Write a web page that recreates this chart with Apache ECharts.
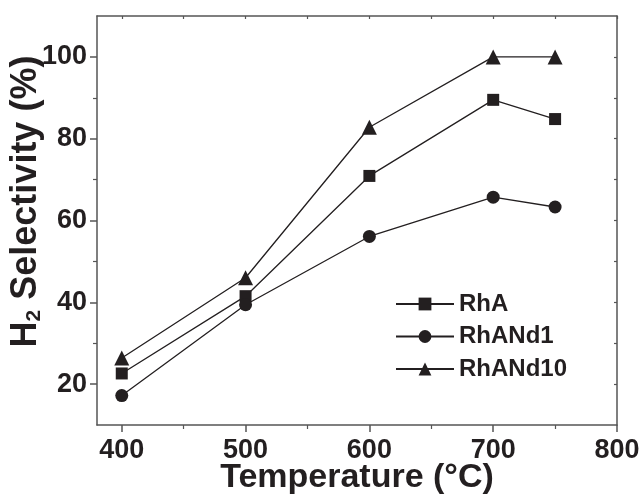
<!DOCTYPE html>
<html>
<head>
<meta charset="utf-8">
<script src="https://cdn.jsdelivr.net/npm/echarts@6/dist/echarts.min.js"></script>
<style>html,body{margin:0;padding:0;background:#fff}#c{width:643px;height:497px}</style>
</head>
<body>
<div id="c"></div>
<script>
const temperatures = [400, 500, 600, 700, 750];
const rhA = [22.6, 41.5, 70.9, 89.5, 84.8];
const rhANd1 = [17.2, 39.4, 56.1, 65.7, 63.3];
const rhANd10 = [26.4, 46.0, 82.8, 100.0, 100.0];
const xMajorTicks = [400, 500, 600, 700, 800];
const xMinorTicks = [450, 550, 650, 750];
const xAllTicks = [400, 450, 500, 550, 600, 650, 700, 750, 800];
const yMajorTicks = [20, 40, 60, 80, 100];
const yMinorTicks = [30, 50, 70, 90];
const yAllTicks = [20, 30, 40, 50, 60, 70, 80, 90, 100];
const seriesNames = ['RhA', 'RhANd1', 'RhANd10'];

const ink = '#231f20';
const axisCol = '#555555';
const font = 'Liberation Sans, Arial, sans-serif';

function pairs(xs, ys) { return xs.map((x, i) => [x, ys[i]]); }

const chart = echarts.init(document.getElementById('c'));
const baseX = { type: 'value', min: 380, max: 800, splitLine: { show: false } };
const baseY = { type: 'value', min: 10, max: 110, splitLine: { show: false } };

chart.setOption({
  animation: false,
  backgroundColor: '#fff',
  grid: { left: 97, right: 26, top: 16, bottom: 72, containLabel: false, outerBoundsMode: 'none' },
  legend: {
    orient: 'vertical', left: 390, top: 287,
    itemWidth: 58, itemHeight: 16, itemGap: 8.5, itemTextGap: 8,
    textStyle: { fontFamily: font, fontWeight: 'bold', fontSize: 24, color: ink, lineHeight: 24 },
    data: seriesNames
  },
  xAxis: [
    Object.assign({}, baseX, {
      position: 'bottom',
      name: 'Temperature (°C)', nameLocation: 'middle', nameGap: 36, nameMoveOverlap: false,
      nameTextStyle: { fontFamily: font, fontWeight: 'bold', fontSize: 34, color: ink },
      axisLine: { show: true, lineStyle: { color: axisCol, width: 1.5 } },
      axisTick: { show: true, inside: false, length: 7, customValues: xMajorTicks, lineStyle: { color: axisCol, width: 1.5 } },
      axisLabel: { customValues: xMajorTicks, margin: 12, fontFamily: font, fontWeight: 'bold', fontSize: 27, color: ink }
    }),
    Object.assign({}, baseX, {
      position: 'bottom',
      axisLine: { show: false },
      axisTick: { show: true, inside: false, length: 4, customValues: xMinorTicks, lineStyle: { color: axisCol, width: 1.2 } },
      axisLabel: { show: false }
    }),
    Object.assign({}, baseX, {
      position: 'top',
      axisLine: { show: true, lineStyle: { color: axisCol, width: 1.5 } },
      axisTick: { show: true, inside: true, length: 3, customValues: xAllTicks, lineStyle: { color: axisCol, width: 1.2 } },
      axisLabel: { show: false }
    })
  ],
  yAxis: [
    Object.assign({}, baseY, {
      position: 'left',
      name: 'H{sub|2} Selectivity (%)', nameLocation: 'middle', nameGap: 52, nameRotate: 90, nameMoveOverlap: false,
      nameTextStyle: {
        fontFamily: font, fontWeight: 'bold', fontSize: 36, color: ink, padding: [0, 0, 0, 38],
        rich: { sub: { fontFamily: font, fontWeight: 'bold', fontSize: 21, color: ink, verticalAlign: 'bottom', padding: [16, 0, 0, 0] } }
      },
      axisLine: { show: true, lineStyle: { color: axisCol, width: 1.5 } },
      axisTick: { show: true, inside: false, length: 7, customValues: yMajorTicks, lineStyle: { color: axisCol, width: 1.5 } },
      axisLabel: { customValues: yMajorTicks, margin: 10, fontFamily: font, fontWeight: 'bold', fontSize: 27, color: ink }
    }),
    Object.assign({}, baseY, {
      position: 'left',
      axisLine: { show: false },
      axisTick: { show: true, inside: false, length: 4, customValues: yMinorTicks, lineStyle: { color: axisCol, width: 1.2 } },
      axisLabel: { show: false }
    }),
    Object.assign({}, baseY, {
      position: 'right',
      axisLine: { show: true, lineStyle: { color: axisCol, width: 1.5 } },
      axisTick: { show: true, inside: true, length: 3, customValues: yAllTicks, lineStyle: { color: axisCol, width: 1.2 } },
      axisLabel: { show: false }
    })
  ],
  series: [
    { name: seriesNames[0], type: 'line', data: pairs(temperatures, rhA), symbol: 'rect', symbolSize: 12 },
    { name: seriesNames[1], type: 'line', data: pairs(temperatures, rhANd1), symbol: 'circle', symbolSize: 13 },
    { name: seriesNames[2], type: 'line', data: pairs(temperatures, rhANd10), symbol: 'triangle', symbolSize: 15 }
  ].map(s => Object.assign(s, {
    xAxisIndex: 0, yAxisIndex: 0,
    lineStyle: { color: ink, width: 1.3 },
    itemStyle: { color: ink, borderWidth: 0 },
    emphasis: { disabled: true }
  }))
});
</script>
</body>
</html>
